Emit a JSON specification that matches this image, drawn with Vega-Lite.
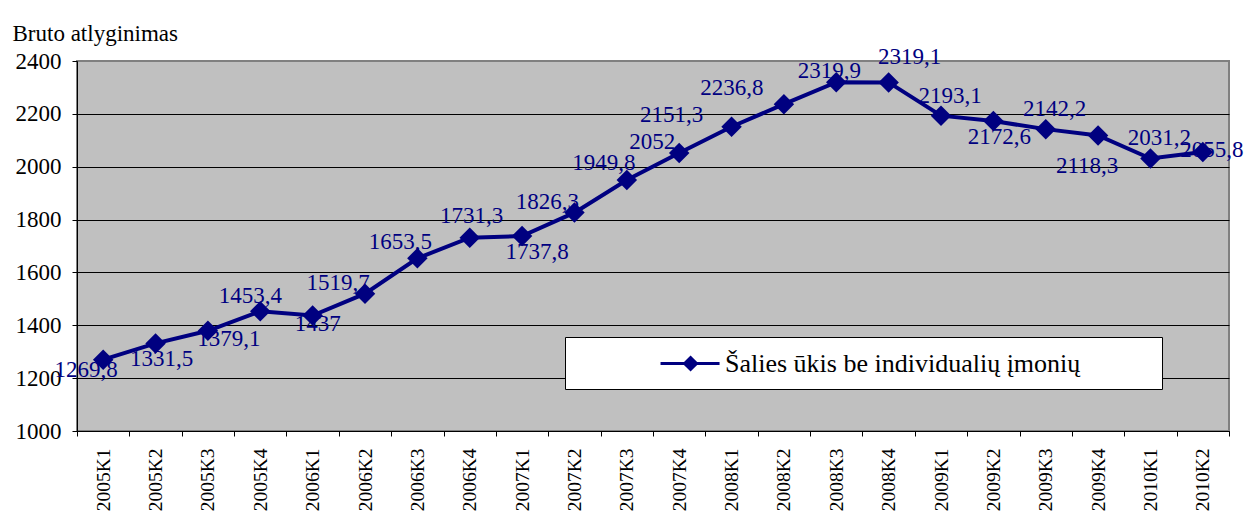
{
  "$schema": "https://vega.github.io/schema/vega-lite/v6.json",
  "width": 1152,
  "height": 370,
  "autosize": {"type": "none"},
  "padding": {"left": 77, "top": 61, "right": 15, "bottom": 100},
  "background": "white",
  "config": {
    "locale": {"number": {"decimal": ",", "thousands": "", "grouping": [3], "currency": ["", ""]}},
    "view": {"fill": "#C0C0C0", "stroke": "#808080", "strokeWidth": 2},
    "font": "Liberation Serif, Tinos, DejaVu Serif, Noto Serif, serif",
    "text": {"font": "Liberation Serif, Tinos, DejaVu Serif, Noto Serif, serif"},
    "axis": {"labelFont": "Liberation Serif, Tinos, DejaVu Serif, Noto Serif, serif", "titleFont": "Liberation Serif, Tinos, DejaVu Serif, Noto Serif, serif", "labelColor": "black", "titleColor": "black", "domainColor": "black", "tickColor": "black", "domainWidth": 1, "tickWidth": 1},
    "legend": {"labelFont": "Liberation Serif, Tinos, DejaVu Serif, Noto Serif, serif", "titleFont": "Liberation Serif, Tinos, DejaVu Serif, Noto Serif, serif"}
  },
  "data": {
    "values": [
      {"period": "2005K1", "value": 1269.8},
      {"period": "2005K2", "value": 1331.5},
      {"period": "2005K3", "value": 1379.1},
      {"period": "2005K4", "value": 1453.4},
      {"period": "2006K1", "value": 1437},
      {"period": "2006K2", "value": 1519.7},
      {"period": "2006K3", "value": 1653.5},
      {"period": "2006K4", "value": 1731.3},
      {"period": "2007K1", "value": 1737.8},
      {"period": "2007K2", "value": 1826.3},
      {"period": "2007K3", "value": 1949.8},
      {"period": "2007K4", "value": 2052},
      {"period": "2008K1", "value": 2151.3},
      {"period": "2008K2", "value": 2236.8},
      {"period": "2008K3", "value": 2319.9},
      {"period": "2008K4", "value": 2319.1},
      {"period": "2009K1", "value": 2193.1},
      {"period": "2009K2", "value": 2172.6},
      {"period": "2009K3", "value": 2142.2},
      {"period": "2009K4", "value": 2118.3},
      {"period": "2010K1", "value": 2031.2},
      {"period": "2010K2", "value": 2055.8}
    ]
  },
  "encoding": {
    "x": {
      "field": "period", "type": "ordinal",
      "scale": {"type": "band", "paddingInner": 0, "paddingOuter": 0},
      "axis": {"title": null, "labelAngle": -90, "labelAlign": "right", "labelBaseline": "middle", "labelFontSize": 19.5, "tickBand": "extent", "tickSize": 5, "labelPadding": 12, "grid": false}
    },
    "y": {
      "field": "value", "type": "quantitative",
      "scale": {"domain": [1000, 2400], "nice": false, "zero": false},
      "axis": {
        "title": "Bruto atlyginimas", "titleAngle": 0, "titleX": -65, "titleY": -21, "titleAlign": "left", "titleBaseline": "alphabetic", "titleFontSize": 23, "titleFontWeight": "normal",
        "values": [1000, 1200, 1400, 1600, 1800, 2000, 2200, 2400], "format": "d",
        "labelFontSize": 23, "tickSize": 5, "labelPadding": 11,
        "grid": true, "gridWidth": 1,
        "gridColor": {"condition": {"test": "datum.value >= 2400", "value": "#808080"}, "value": "black"}
      }
    }
  },
  "layer": [
    {"transform": [{"filter": {"field": "period", "oneOf": ["2005K2", "2009K2"]}}], "mark": {"type": "text", "dx": 6, "dy": 16, "fontSize": 23, "color": "#000080", "align": "center", "baseline": "middle"}, "encoding": {"text": {"field": "value", "type": "quantitative", "format": ".5~g"}}},
    {"transform": [{"filter": {"field": "period", "oneOf": ["2006K2", "2007K2", "2007K4"]}}], "mark": {"type": "text", "dx": -27, "dy": -11, "fontSize": 23, "color": "#000080", "align": "center", "baseline": "middle"}, "encoding": {"text": {"field": "value", "type": "quantitative", "format": ".5~g"}}},
    {"transform": [{"filter": {"field": "period", "oneOf": ["2009K1", "2009K3", "2010K1"]}}], "mark": {"type": "text", "dx": 9, "dy": -20, "fontSize": 23, "color": "#000080", "align": "center", "baseline": "middle"}, "encoding": {"text": {"field": "value", "type": "quantitative", "format": ".5~g"}}},
    {"transform": [{"filter": {"field": "period", "equal": "2005K1"}}], "mark": {"type": "text", "dx": -17, "dy": 10, "fontSize": 23, "color": "#000080", "align": "center", "baseline": "middle"}, "encoding": {"text": {"field": "value", "type": "quantitative", "format": ".5~g"}}},
    {"transform": [{"filter": {"field": "period", "equal": "2005K3"}}], "mark": {"type": "text", "dx": 21, "dy": 8, "fontSize": 23, "color": "#000080", "align": "center", "baseline": "middle"}, "encoding": {"text": {"field": "value", "type": "quantitative", "format": ".5~g"}}},
    {"transform": [{"filter": {"field": "period", "equal": "2005K4"}}], "mark": {"type": "text", "dx": -10, "dy": -15, "fontSize": 23, "color": "#000080", "align": "center", "baseline": "middle"}, "encoding": {"text": {"field": "value", "type": "quantitative", "format": ".5~g"}}},
    {"transform": [{"filter": {"field": "period", "equal": "2006K1"}}], "mark": {"type": "text", "dx": 5, "dy": 8, "fontSize": 23, "color": "#000080", "align": "center", "baseline": "middle"}, "encoding": {"text": {"field": "value", "type": "quantitative", "format": ".5~g"}}},
    {"transform": [{"filter": {"field": "period", "equal": "2006K3"}}], "mark": {"type": "text", "dx": -17, "dy": -16, "fontSize": 23, "color": "#000080", "align": "center", "baseline": "middle"}, "encoding": {"text": {"field": "value", "type": "quantitative", "format": ".5~g"}}},
    {"transform": [{"filter": {"field": "period", "equal": "2006K4"}}], "mark": {"type": "text", "dx": 2, "dy": -22, "fontSize": 23, "color": "#000080", "align": "center", "baseline": "middle"}, "encoding": {"text": {"field": "value", "type": "quantitative", "format": ".5~g"}}},
    {"transform": [{"filter": {"field": "period", "equal": "2007K1"}}], "mark": {"type": "text", "dx": 15, "dy": 16, "fontSize": 23, "color": "#000080", "align": "center", "baseline": "middle"}, "encoding": {"text": {"field": "value", "type": "quantitative", "format": ".5~g"}}},
    {"transform": [{"filter": {"field": "period", "equal": "2007K3"}}], "mark": {"type": "text", "dx": -23, "dy": -17, "fontSize": 23, "color": "#000080", "align": "center", "baseline": "middle"}, "encoding": {"text": {"field": "value", "type": "quantitative", "format": ".5~g"}}},
    {"transform": [{"filter": {"field": "period", "equal": "2008K1"}}], "mark": {"type": "text", "dx": -60, "dy": -12, "fontSize": 23, "color": "#000080", "align": "center", "baseline": "middle"}, "encoding": {"text": {"field": "value", "type": "quantitative", "format": ".5~g"}}},
    {"transform": [{"filter": {"field": "period", "equal": "2008K2"}}], "mark": {"type": "text", "dx": -52, "dy": -16, "fontSize": 23, "color": "#000080", "align": "center", "baseline": "middle"}, "encoding": {"text": {"field": "value", "type": "quantitative", "format": ".5~g"}}},
    {"transform": [{"filter": {"field": "period", "equal": "2008K3"}}], "mark": {"type": "text", "dx": -7, "dy": -11, "fontSize": 23, "color": "#000080", "align": "center", "baseline": "middle"}, "encoding": {"text": {"field": "value", "type": "quantitative", "format": ".5~g"}}},
    {"transform": [{"filter": {"field": "period", "equal": "2008K4"}}], "mark": {"type": "text", "dx": 21, "dy": -25, "fontSize": 23, "color": "#000080", "align": "center", "baseline": "middle"}, "encoding": {"text": {"field": "value", "type": "quantitative", "format": ".5~g"}}},
    {"transform": [{"filter": {"field": "period", "equal": "2009K4"}}], "mark": {"type": "text", "dx": -11, "dy": 31, "fontSize": 23, "color": "#000080", "align": "center", "baseline": "middle"}, "encoding": {"text": {"field": "value", "type": "quantitative", "format": ".5~g"}}},
    {"transform": [{"filter": {"field": "period", "equal": "2010K2"}}], "mark": {"type": "text", "dx": 9, "dy": -2, "fontSize": 23, "color": "#000080", "align": "center", "baseline": "middle"}, "encoding": {"text": {"field": "value", "type": "quantitative", "format": ".5~g"}}},
    {
      "mark": {"type": "line", "strokeWidth": 4},
      "encoding": {
        "color": {
          "datum": "Šalies ūkis be individualių įmonių", "type": "nominal",
          "scale": {"range": ["#000080"]},
          "legend": {
            "title": "\u00a0", "titleOrient": "right", "titlePadding": 70, "titleFontSize": 10,
            "orient": "none", "legendX": 488, "legendY": 276,
            "padding": 12, "fillColor": "white", "strokeColor": "black",
            "symbolType": "M-3.69,0L0.85,0M-1.84,0L-1.38,-0.46L-0.92,0L-1.38,0.46Z",
            "symbolSize": 676, "symbolOffset": 117, "labelOffset": 2,
            "labelFontSize": 26, "labelColor": "black", "labelLimit": 1000,
            "encode": {"symbols": {"update": {"fill": {"value": "#000080"}, "stroke": {"value": "#000080"}, "strokeWidth": {"value": 3}, "opacity": {"value": 1}}}}
          }
        }
      }
    },
    {"mark": {"type": "point", "shape": "diamond", "filled": true, "size": 420, "color": "#000080", "opacity": 1}}
  ]
}
